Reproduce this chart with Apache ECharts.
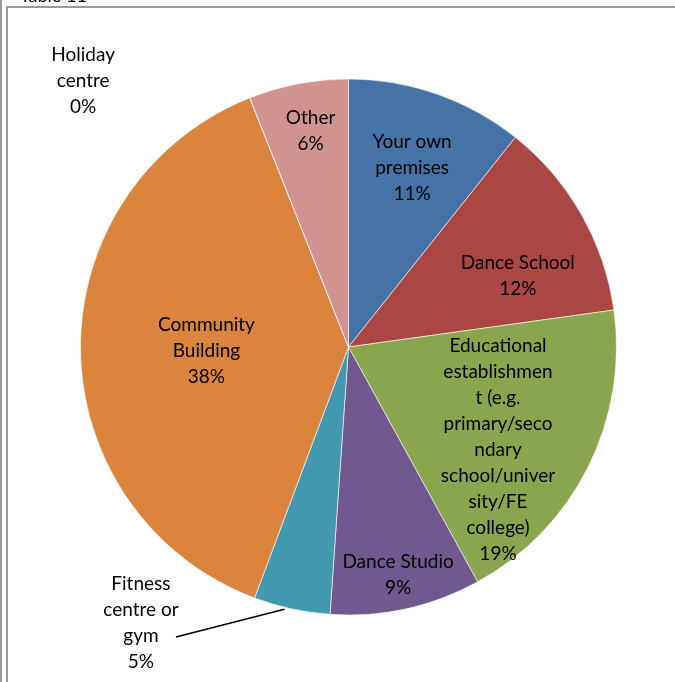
<!DOCTYPE html>
<html>
<head>
<meta charset="utf-8">
<script src="https://cdn.jsdelivr.net/npm/echarts@6/dist/echarts.min.js"></script>
<style>
	body{margin:0;background:#fff;}
	#frame{position:absolute;left:0;top:0;width:2px;height:682px;background:#9a9a9a;}
	#main{position:absolute;left:0;top:0;width:675px;height:682px;}
</style>
</head>
<body>
<div id="frame"></div>
<div id="main"></div>
<script>
// venue categories, clockwise from 12 o'clock
var names = ['Your own premises','Dance School','Educational establishment (e.g. primary/secondary school/university/FE college)','Dance Studio','Fitness centre or gym','Community Building','Holiday centre','Other'];
var labelText = ['Your own\npremises','Dance School','Educational\nestablishmen\nt (e.g.\nprimary/seco\nndary\nschool/univer\nsity/FE\ncollege)','Dance Studio','Fitness\ncentre or\ngym','Community\nBuilding','Holiday\ncentre','Other'];
var values = [10.7, 12.1, 19.2, 9.1, 4.6, 38.3, 0, 6.0];
var colors = ['#4572a7','#aa4643','#89a54e','#71588f','#4198af','#db843d','#93a9cf','#d19392'];

// where each label sits: fraction of radius and turn (deg) from slice middle
var labelDist = [0.72, 0.69, 0.67, 0.86, 1.28, 0.53, 1.41, 0.83];
var labelTurn = [0, 6, 7, 0, 25, 0, -23, 1];

var CX = 348.5, CY = 347, R = 268;
var FONT = 'Lato, "Open Sans", sans-serif';

function midAngle(i){
	var total = 0, before = 0;
	values.forEach(function(v,k){ total += v; if(k < i) before += v; });
	return (before + values[i]/2) / total * 360;
}

var pieData = [];
names.forEach(function(n,i){
	var item = {name:n, value:values[i], itemStyle:{color:colors[i]}};
	if(i == 4){
		item.label = {position:'outside'};
		item.labelLine = {show:true, lineStyle:{color:'#000', width:1.5}};
	}
	pieData.push(item);
});

var myChart = echarts.init(document.getElementById('main'));
var option = {
	animation:false,
	graphic:[
		{type:'text', left:20, top:-13, style:{text:'Table 11', font:'18px ' + FONT, fill:'#000'}},
		{type:'rect', shape:{x:7, y:7, width:700, height:700}, style:{fill:null, stroke:'#9a9a9a', lineWidth:2}, silent:true}
	],
	series:[
		{
			type:'pie',
			center:[CX, CY],
			radius:R,
			startAngle:90,
			clockwise:true,
			avoidLabelOverlap:false,
			itemStyle:{borderColor:'rgba(255,255,255,0.6)', borderWidth:1},
			label:{
				position:'inside',
				color:'#000',
				fontFamily:FONT,
				fontSize:19,
				lineHeight:26,
				align:'center',
				formatter:function(p){
					return labelText[p.dataIndex] + '\n' + Math.round(p.percent) + '%';
				}
			},
			labelLine:{show:false},
			labelLayout:function(p){
				var i = p.dataIndex;
				var m = midAngle(i);
				var a = (m + labelTurn[i]) * Math.PI / 180;
				var d = labelDist[i] * R;
				var x = CX + d*Math.sin(a), y = CY - d*Math.cos(a) + 3;
				var out = {x:x, y:y, align:'center', verticalAlign:'middle'};
				if(i == 4){
					var b = (m + 1.5) * Math.PI / 180;
					out.labelLinePoints = [
						[CX + (R + 2)*Math.sin(b), CY - (R + 2)*Math.cos(b)],
						[x + 35, y + 14]
					];
				}
				return out;
			},
			emphasis:{disabled:true},
			data:pieData
		}
	]
};
myChart.setOption(option);
</script>
</body>
</html>
